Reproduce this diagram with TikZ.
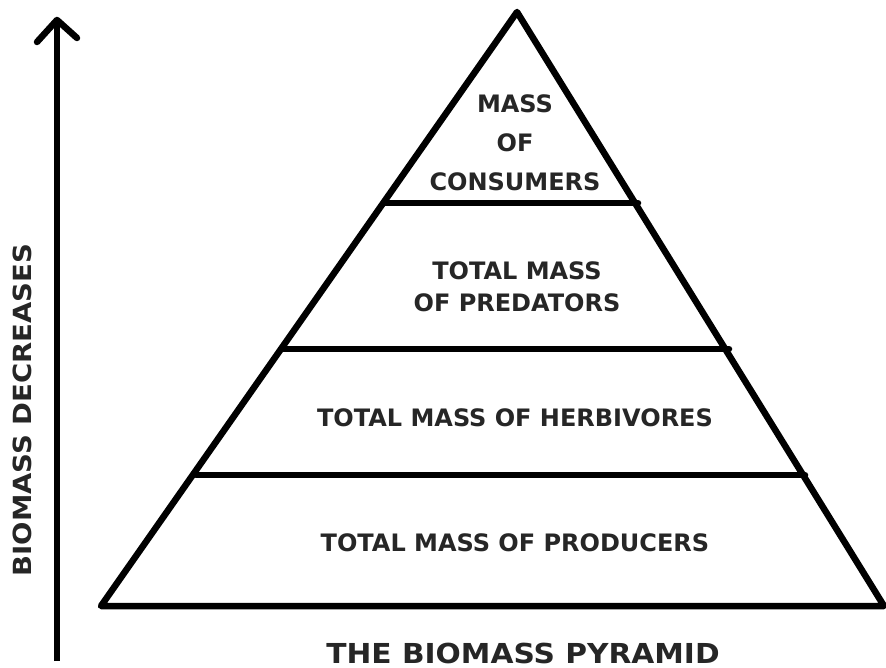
\documentclass[tikz,border=0pt]{standalone}
\usepackage{fontspec}
\setmainfont{DejaVu Sans}
\newfontfamily\titlefont{DejaVu Sans}[FakeStretch=1.08]
\newfontfamily\axisfont{DejaVu Sans}[FakeStretch=1.1]
\begin{document}
\begin{tikzpicture}[x=1pt,y=-1pt,
  ink/.style={line width=6.5pt,line join=round,line cap=round,black},
  lbl/.style={font=\fontsize{24}{29}\bfseries\selectfont,text=black!85,align=center,inner sep=0pt},
  ttl/.style={font=\titlefont\fontsize{27.5}{32}\bfseries\selectfont,text=black!85,inner sep=0pt},
  axl/.style={font=\axisfont\fontsize{25}{30}\bfseries\selectfont,text=black!85,inner sep=0pt}]
\useasboundingbox (0,0) rectangle (886,668);

% pyramid outline
\coordinate (apex) at (517,12);
\coordinate (bl) at (101,606);
\coordinate (br) at (884,606);
\draw[ink] (bl) -- (apex) -- (br) -- cycle;

% level dividers
\coordinate (l1a) at (384,203);
\coordinate (l1b) at (638,203);
\coordinate (l2a) at (283,349);
\coordinate (l2b) at (729,349);
\coordinate (l3a) at (196,475);
\coordinate (l3b) at (805,475);
\draw[ink] (l1a) -- (l1b);
\draw[ink] (l2a) -- (l2b);
\draw[ink] (l3a) -- (l3b);

% level labels
\node[lbl] (consumers) at (515,143) {MASS\\[10pt]OF\\[10pt]CONSUMERS};
\node[lbl] (predators) at (517,287) {TOTAL MASS\\[3pt]OF PREDATORS};
\node[lbl] (herbivores) at (515,418) {TOTAL MASS OF HERBIVORES};
\node[lbl] (producers) at (515,543) {TOTAL MASS OF PRODUCERS};

% title
\node[ttl] (title) at (523,653) {THE BIOMASS PYRAMID};

% biomass axis
\coordinate (axbot) at (57,661);
\coordinate (axtop) at (57,20);
\coordinate (wl) at (37,42);
\coordinate (wr) at (77,38);
\draw[line width=6.5pt,line cap=butt] (axbot) -- (axtop);
\draw[ink] (wl) -- (axtop) -- (wr);
\node[axl,rotate=90] (axis) at (22,410) {BIOMASS DECREASES};
\end{tikzpicture}
\end{document}
